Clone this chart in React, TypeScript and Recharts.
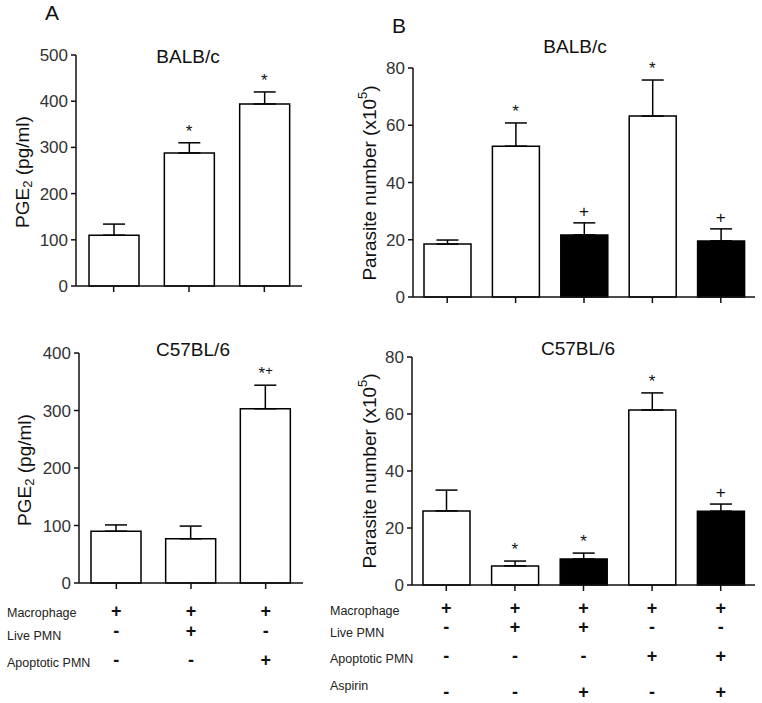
import React from 'react'
import { ComposedChart, Bar, Cell, ErrorBar, Scatter, XAxis, YAxis } from 'recharts'

// group names (rows of the +/- table below define them)
const groupsA = ['Mφ', 'Mφ + live PMN', 'Mφ + apoptotic PMN']
const groupsB = [
  'Mφ',
  'Mφ + live PMN',
  'Mφ + live PMN + aspirin',
  'Mφ + apoptotic PMN',
  'Mφ + apoptotic PMN + aspirin'
]

// panel A: PGE2 (pg/ml), mean and SEM
const pgeBalb = [110, 288, 394]
const pgeBalbErr = [24, 22, 26]
const pgeBalbSig = ['', '*', '*']
const pgeC57 = [90, 77, 303]
const pgeC57Err = [11, 22, 41]
const pgeC57Sig = ['', '', '*+']

// panel B: parasite number (x10^5), mean and SEM
const parBalb = [18.5, 52.7, 21.7, 63.2, 19.6]
const parBalbErr = [1.4, 8.1, 4.2, 12.6, 4.2]
const parBalbSig = ['', '*', '+', '*', '+']
const parC57 = [26, 6.7, 9.1, 61.4, 25.9]
const parC57Err = [7.3, 1.7, 2.1, 6.0, 2.5]
const parC57Sig = ['', '*', '*', '*', '+']

// treatment table
const rowLabelsA = ['Macrophage', 'Live PMN', 'Apoptotic PMN']
const tableA = [
  ['+', '+', '+'],
  ['-', '+', '-'],
  ['-', '-', '+']
]
const rowLabelsB = ['Macrophage', 'Live PMN', 'Apoptotic PMN', 'Aspirin']
const tableB = [
  ['+', '+', '+', '+', '+'],
  ['-', '+', '+', '-', '-'],
  ['-', '-', '-', '+', '+'],
  ['-', '-', '+', '-', '+']
]

const ticksA1 = [0, 100, 200, 300, 400, 500]
const ticksA2 = [0, 100, 200, 300, 400]
const ticksB = [0, 20, 40, 60, 80]

const FONT = 'Liberation Sans, Arial, Helvetica, sans-serif'

const build = (groups: string[], mean: number[], err: number[], sig: string[], table?: string[][]) =>
  groups.map((g, i) => ({
    name: g,
    mean: mean[i],
    err: [0, err[i]],
    sigY: mean[i] + err[i],
    sig: sig[i],
    signs: table ? table.map((r) => r[i]) : [],
    black: table && table.length > 3 ? table[3][i] === '+' : false
  }))

const SigShape = (props: any) => {
  const { cx, cy, payload } = props
  if (!payload || !payload.sig) return <g />
  const s: string = payload.sig
  if (s === '*+') {
    return (
      <text x={cx} y={cy - 6} textAnchor="middle" fontSize={17} fontFamily={FONT} fill="#111">
        *<tspan dy={-4} fontSize={13}>+</tspan>
      </text>
    )
  }
  return (
    <text x={cx} y={cy - 6} textAnchor="middle" fontSize={17} fontFamily={FONT} fill="#111">
      {s}
    </text>
  )
}

interface PanelProps {
  left: number
  top: number
  width: number
  height: number
  margin: { top: number; right: number; bottom: number; left: number }
  data: any[]
  domain: [number, number]
  ticks: number[]
  barSize: number
  xHeight: number
  signOffsets?: number[]
}

const Panel: React.FC<PanelProps> = ({ left, top, width, height, margin, data, domain, ticks, barSize, xHeight, signOffsets }) => {
  // the +/- table column is drawn as the x tick of each group
  const renderTick = (props: any) => {
    const { x, y, index } = props
    const d = data[index]
    if (!signOffsets || !d) return <g />
    const axisY = y - 8
    return (
      <g>
        {d.signs.map((s: string, k: number) => (
          <text
            key={k}
            x={x}
            y={axisY + signOffsets[k]}
            textAnchor="middle"
            fontSize={18}
            fontWeight="bold"
            fontFamily={FONT}
            fill="#111"
          >
            {s}
          </text>
        ))}
      </g>
    )
  }
  return (
    <div style={{ position: 'absolute', left, top }}>
      <ComposedChart width={width} height={height} data={data} margin={margin}>
        <XAxis
          dataKey="name"
          height={xHeight}
          axisLine={{ stroke: '#111', strokeWidth: 1.5 }}
          tickLine={{ stroke: '#111', strokeWidth: 1.5 }}
          tickSize={6}
          tickMargin={2}
          interval={0}
          tick={renderTick}
        />
        <YAxis
          width={50}
          domain={domain}
          ticks={ticks}
          interval={0}
          axisLine={{ stroke: '#111', strokeWidth: 1.5 }}
          tickLine={{ stroke: '#111', strokeWidth: 1.5 }}
          tickSize={5}
          tickMargin={3}
          tick={{ fontSize: 17, fill: '#333', fontFamily: FONT }}
        />
        <Bar dataKey="mean" barSize={barSize} stroke="#000" strokeWidth={1.5} isAnimationActive={false}>
          {data.map((d, i) => (
            <Cell key={i} fill={d.black ? '#000' : '#fff'} />
          ))}
          <ErrorBar dataKey="err" width={11} stroke="#000" strokeWidth={1.5} direction="y" />
        </Bar>
        <Scatter dataKey="sigY" shape={SigShape} isAnimationActive={false} />
      </ComposedChart>
    </div>
  )
}

const YLabel: React.FC<{ x: number; y: number; kind: 'pge' | 'par' }> = ({ x, y, kind }) => (
  <text
    x={x}
    y={y}
    transform={`rotate(-90, ${x}, ${y})`}
    textAnchor="middle"
    dominantBaseline="central"
    fontSize={19}
    fontFamily={FONT}
    fill="#111"
  >
    {kind === 'pge' ? (
      <>
        PGE<tspan dy={5} fontSize={13}>2</tspan>
        <tspan dy={-5}> (pg/ml)</tspan>
      </>
    ) : (
      <>
        Parasite number (x10<tspan dy={-7} fontSize={13}>5</tspan>
        <tspan dy={7}>)</tspan>
      </>
    )}
  </text>
)

export default function App() {
  const dA1 = build(groupsA, pgeBalb, pgeBalbErr, pgeBalbSig)
  const dA2 = build(groupsA, pgeC57, pgeC57Err, pgeC57Sig, tableA)
  const dB1 = build(groupsB, parBalb, parBalbErr, parBalbSig, tableB)
  const dB2 = build(groupsB, parC57, parC57Err, parC57Sig, tableB)
  // top B panel has no table, but the aspirin row still sets the bar colour
  const dB1plain = dB1.map((d) => ({ ...d, signs: [] }))

  const titleStyle = { fontSize: 19, fontFamily: FONT, fill: '#111' }
  const rowStyle = { fontSize: 12.5, fontFamily: FONT, fill: '#222' }

  return (
    <div style={{ position: 'absolute', left: 0, top: 0, width: 762, height: 703, background: '#fff' }}>
      <Panel
        left={0}
        top={0}
        width={330}
        height={310}
        margin={{ top: 55, right: 28, bottom: 14, left: 26 }}
        data={dA1}
        domain={[0, 500]}
        ticks={ticksA1}
        barSize={50}
        xHeight={10}
      />
      <Panel
        left={0}
        top={310}
        width={330}
        height={393}
        margin={{ top: 43, right: 27, bottom: 0, left: 29 }}
        data={dA2}
        domain={[0, 400]}
        ticks={ticksA2}
        barSize={50}
        xHeight={120}
        signOffsets={[34, 54, 83]}
      />
      <Panel
        left={330}
        top={0}
        width={432}
        height={310}
        margin={{ top: 68, right: 7, bottom: 3, left: 33 }}
        data={dB1plain}
        domain={[0, 80]}
        ticks={ticksB}
        barSize={47}
        xHeight={10}
      />
      <Panel
        left={330}
        top={310}
        width={432}
        height={393}
        margin={{ top: 47, right: 7, bottom: 0, left: 32 }}
        data={dB2}
        domain={[0, 80]}
        ticks={ticksB}
        barSize={47}
        xHeight={118}
        signOffsets={[29, 48, 77, 113]}
      />
      <svg width={762} height={703} style={{ position: 'absolute', left: 0, top: 0, pointerEvents: 'none' }}>
        <text x={45} y={20} fontSize={21} fontFamily={FONT} fill="#111">A</text>
        <text x={392} y={33} fontSize={21} fontFamily={FONT} fill="#111">B</text>
        <text x={188} y={63} textAnchor="middle" {...titleStyle}>BALB/c</text>
        <text x={193} y={356} textAnchor="middle" {...titleStyle}>C57BL/6</text>
        <text x={575} y={53} textAnchor="middle" {...titleStyle}>BALB/c</text>
        <text x={578} y={355} textAnchor="middle" {...titleStyle}>C57BL/6</text>
        <YLabel x={22} y={172} kind="pge" />
        <YLabel x={24} y={470} kind="pge" />
        <YLabel x={369} y={183} kind="par" />
        <YLabel x={369} y={471} kind="par" />
        {rowLabelsA.map((r, i) => (
          <text key={r} x={7} y={[617, 640, 667][i]} {...rowStyle}>{r}</text>
        ))}
        {rowLabelsB.map((r, i) => (
          <text key={r} x={330} y={[615, 637, 663, 690][i]} {...rowStyle}>{r}</text>
        ))}
      </svg>
    </div>
  )
}
